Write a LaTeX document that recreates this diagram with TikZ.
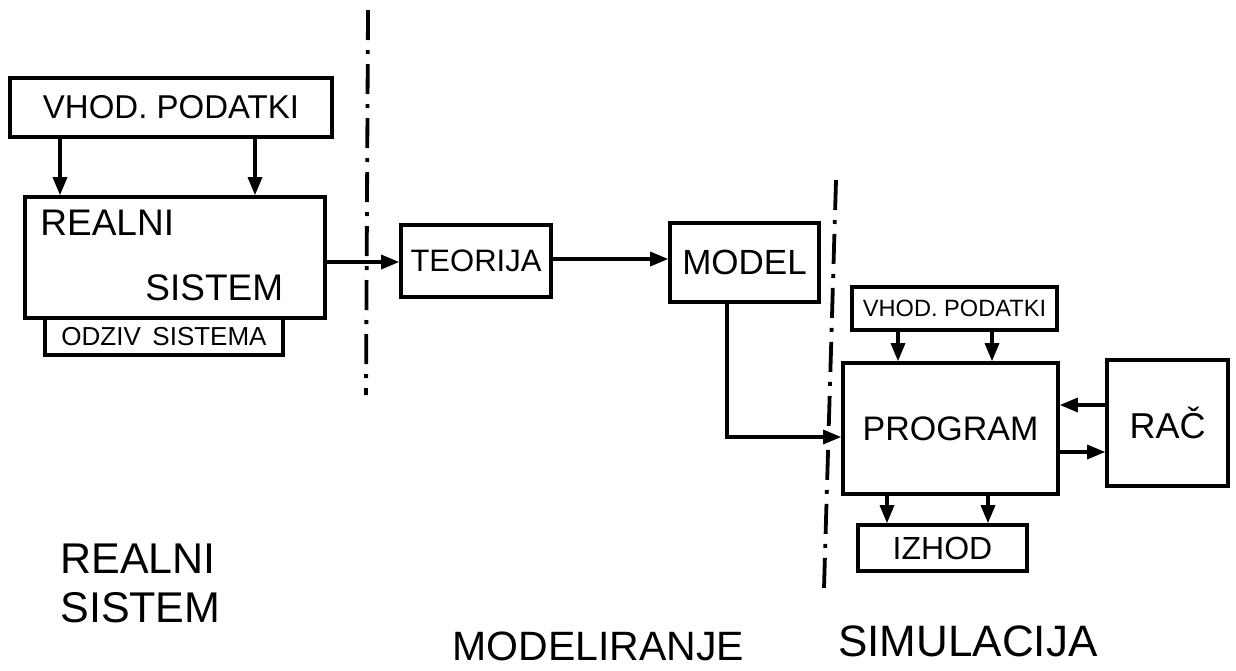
\documentclass[tikz,border=0pt]{standalone}
\usepackage{fontspec}
\setmainfont{Liberation Sans}
\usepackage{tikz}
\usetikzlibrary{arrows.meta, calc, positioning}
\tikzset{
	boxnode/.style={
			draw=black,
			line width=1.8pt,
			rectangle,
			inner sep=0pt
		},
	textnode/.style={
			inner sep=0pt,
			text=black
		},
	flowarrow/.style={
			line width=1.6pt,
			-{Triangle[length=9pt,width=7pt]}
		},
	divider/.style={
			line width=1.9pt,
			dash pattern=on 15pt off 5pt on 2pt off 5pt
		}
}

\begin{document}
\begin{tikzpicture}[x=0.5pt, y=-0.5pt]
\useasboundingbox (0,0) rectangle (1236,670);

\node[boxnode, minimum width=161pt, minimum height=29.5pt, font=\fontsize{16.5}{18}\selectfont] (vhod) at (171,107.5) {VHOD. PODATKI};
\node[boxnode, minimum width=150pt, minimum height=60.5pt] (realni) at (175,257.5) {};
\node[textnode, anchor=base west, font=\fontsize{18.5}{20}\selectfont] (realnitop) at (40,235) {REALNI};
\node[textnode, anchor=base west, font=\fontsize{18.5}{20}\selectfont] (realnibot) at (145,300) {SISTEM};
\node[boxnode, minimum width=119pt, minimum height=18.5pt, font=\fontsize{13}{14}\selectfont] (odziv) at (164,336.5) {ODZIV\, SISTEMA};

\node[boxnode, minimum width=75pt, minimum height=36pt, font=\fontsize{15.5}{17}\selectfont] (teorija) at (476,261) {TEORIJA};
\node[boxnode, minimum width=74.5pt, minimum height=39.5pt, font=\fontsize{17.5}{19}\selectfont] (model) at (744.5,262.5) {MODEL};

\node[boxnode, minimum width=102.5pt, minimum height=21.5pt, font=\fontsize{11.8}{13}\selectfont] (vhodsim) at (954.5,308.5) {VHOD. PODATKI};
\node[boxnode, minimum width=107.5pt, minimum height=65.5pt, font=\fontsize{17}{19}\selectfont] (program) at (950.5,428.5) {PROGRAM};
\node[boxnode, minimum width=60.5pt, minimum height=63pt, font=\fontsize{18}{20}\selectfont] (rac) at (1167.5,423) {RAČ};
\node[boxnode, minimum width=84.5pt, minimum height=23pt, font=\fontsize{16}{18}\selectfont] (izhod) at (942.5,548) {IZHOD};

\node[textnode, anchor=base west, align=left, font=\fontsize{21.5}{24.5}\selectfont] (lblrealni) at (60,622) {REALNI\\SISTEM};
\node[textnode, anchor=base west, font=\fontsize{20.5}{22}\selectfont] (lblmodel) at (452,660) {MODELIRANJE};
\node[textnode, anchor=base west, font=\fontsize{22}{24}\selectfont] (lblsim) at (838,656) {SIMULACIJA};

\draw[divider] (368,10) -- (366,395);
\draw[divider] (836,180) -- (824,588);

\draw[flowarrow] (60,0 |- vhod.south) -- (60,0 |- realni.north);
\draw[flowarrow] (255,0 |- vhod.south) -- (255,0 |- realni.north);

\draw[flowarrow] (realni.east |- 0,262) -- (teorija.west |- 0,262);
\draw[flowarrow] (teorija.east |- 0,259) -- (model.west |- 0,259);
\draw[flowarrow] (727,0 |- model.south) |- (program.west |- 0,437);

\draw[flowarrow] (898,0 |- vhodsim.south) -- (898,0 |- program.north);
\draw[flowarrow] (992,0 |- vhodsim.south) -- (992,0 |- program.north);

\draw[flowarrow] (rac.west |- 0,405) -- (program.east |- 0,405);
\draw[flowarrow] (program.east |- 0,452) -- (rac.west |- 0,452);

\draw[flowarrow] (887,0 |- program.south) -- (887,0 |- izhod.north);
\draw[flowarrow] (988,0 |- program.south) -- (988,0 |- izhod.north);

\end{tikzpicture}
\end{document}
